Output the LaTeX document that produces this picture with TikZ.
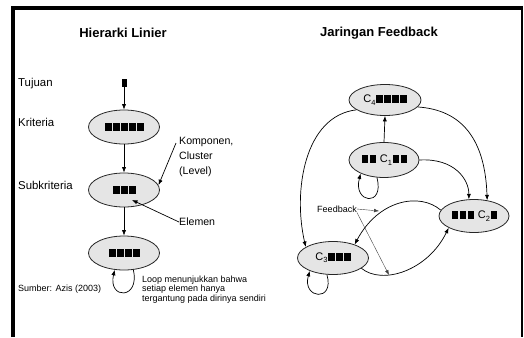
\documentclass[tikz,border=0pt]{standalone}
\usepackage{fontspec}
\setmainfont{Liberation Sans}
\usetikzlibrary{arrows.meta,shapes.geometric}
% one filled element block, and a cluster name with subscript
\newcommand\blk{\hspace{0.8pt}\rule{6.4pt}{8pt}\hspace{0.8pt}}
\newcommand\cname[1]{C\raisebox{-0.35ex}{\fontsize{7.5}{8}\selectfont #1}}
\begin{document}
\begin{tikzpicture}[x=1pt,y=-1pt,
  lvl/.style={ellipse,draw=black!85,line width=0.8pt,fill=black!10,inner sep=0pt,
    minimum width=71pt,minimum height=34pt,font=\fontsize{11}{12}\selectfont},
  arr/.style={-{Latex[length=5.5pt,width=4.2pt]},line width=0.7pt},
  thinarr/.style={-{Latex[length=5pt,width=3.6pt]},line width=0.4pt,draw=black!75},
  lbl/.style={anchor=west,inner sep=0pt,font=\fontsize{11.4}{13}\selectfont},
  ttl/.style={font=\fontsize{13}{15}\selectfont\bfseries,inner sep=0pt},
  small/.style={inner sep=0pt,font=\fontsize{9}{9.2}\selectfont,align=left},
]
\useasboundingbox (0,0) rectangle (524,337);
% frame
\draw[line width=4pt,line join=miter] (13,337) -- (13,8) -- (522,8);
\draw[line width=2.5pt] (522,6) -- (522,337);

% titles
\node[ttl] (t1) at (123,33) {Hierarki Linier};
\node[ttl] (t2) at (379,33) {Jaringan Feedback};

% ---- linear hierarchy ----
\node[lbl] (lt) at (18,84) {Tujuan};
\node[lbl] (lk) at (18,122) {Kriteria};
\node[lbl] (ls) at (18,185) {Subkriteria};
\node[lbl,font=\fontsize{9}{10}\selectfont] (src) at (18,289) {Sumber: Azis (2003)};

\node[fill=black,inner sep=0pt,minimum width=5pt,minimum height=8pt] (goal) at (124,83) {};
\node[lvl] (kri) at (124,127) {\blk\blk\blk\blk\blk};
\node[lvl] (sub) at (124,190) {\blk\blk\blk};
\node[lvl] (alt) at (124,253) {\blk\blk\blk\blk};

\draw[arr] (goal.south) -- (kri.north);
\draw[arr] (kri.south) -- (sub.north);
\draw[arr] (sub.south) -- (alt.north);
\draw[arr] (alt.-61) .. controls +(7,30) and +(-7,30) .. (alt.-119);

\node[inner sep=0pt,anchor=north west,align=left,font=\fontsize{10.6}{15}\selectfont]
  (komp) at (179,137) {Komponen,\\Cluster\\(Level)};
\coordinate (kompTail) at (176,143);
\draw[arr] (kompTail) -- (sub.8);

\node[inner sep=0pt,anchor=west,font=\fontsize{10.6}{12}\selectfont] (elem) at (179,222) {Elemen};
\coordinate (elemTip) at (132,200);
\draw[arr] (elem.west) -- (elemTip);

\node[small,anchor=north west] (note) at (142,276)
  {Loop menunjukkan bahwa\\setiap elemen hanya\\tergantung pada dirinya sendiri};

% ---- feedback network ----
\node[lvl,minimum width=72pt,minimum height=31pt] (c4) at (385,100) {\cname{4}\blk\blk\blk\blk};
\node[lvl,minimum width=70pt,minimum height=35pt] (c1) at (384,160) {\blk\blk\ \cname{1}\blk\blk};
\node[lvl,minimum width=70pt,minimum height=33pt] (c2) at (474,216) {\blk\blk\blk\ \cname{2}\blk};
\node[lvl,minimum width=71pt,minimum height=33pt] (c3) at (333,258) {\cname{3}\blk\blk\blk};

\draw[arr] (c1.north) -- (c4.south);
\draw[arr] (c1.-112) .. controls +(8,30) and +(-8,30) .. (c1.-150);
\draw[arr] (c3.-110) .. controls +(8,28) and +(-8,28) .. (c3.-151);
\draw[arr] (c1.east) .. controls +(35,-2) and +(0,-20) .. (c2.107);
\draw[arr] (c4.-12) .. controls +(45,3) and +(-2,-60) .. (c2.50);
\draw[arr] (c4.-161) .. controls +(-52,6) and +(-13,-56) .. (c3.158);
\draw[arr] (c2.170) .. controls +(-21,-18) and +(24,-45) .. (c3.32);
\draw[arr] (c3.-20) .. controls +(21,17) and +(-21,43) .. (c2.-155);

\node[small] (fb) at (337,209) {Feedback};
\coordinate (fbUp) at (379,211);
\coordinate (fbDown) at (389,275);
\draw[thinarr] (fb.east) -- (fbUp);
\draw[thinarr] (fb.south east) -- (fbDown);
\end{tikzpicture}
\end{document}
